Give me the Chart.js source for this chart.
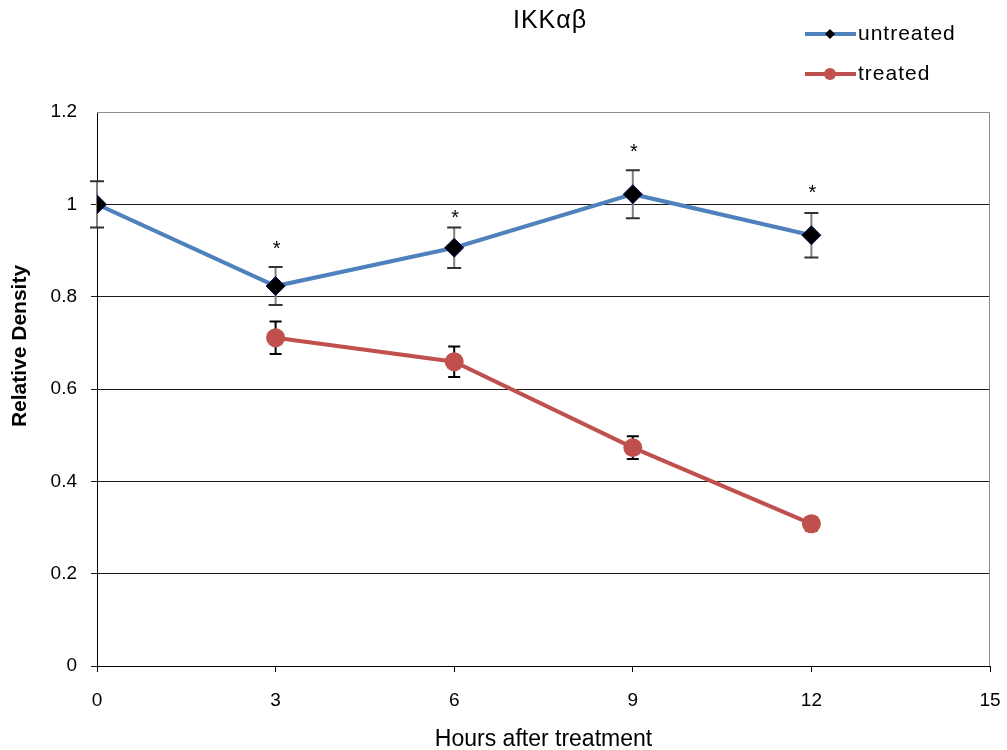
<!DOCTYPE html>
<html>
<head>
<meta charset="utf-8">
<script src="https://cdn.jsdelivr.net/npm/chart.js@4"></script>
<style>
  html, body { margin: 0; padding: 0; background: #fff; }
  #wrap { width: 1007px; height: 750px; }
</style>
</head>
<body>
<div id="wrap"><canvas id="c" width="1007" height="750"></canvas></div>
<script>
const chartTitle = 'IKKαβ';
const xTitle = 'Hours after treatment';
const yTitle = 'Relative Density';
const hours = [0, 3, 6, 9, 12];
const untreated = [1.0, 0.823, 0.906, 1.022, 0.933];
const untreatedErr = [0.05, 0.041, 0.044, 0.052, 0.048];
const treated = [null, 0.711, 0.659, 0.473, 0.308];
const treatedErr = [null, 0.035, 0.033, 0.0245, 0.015];
const starLevels = [null, 0.914, 0.981, 1.124, 1.035];
const xTicks = [0, 3, 6, 9, 12, 15];
const yTicks = [0, 0.2, 0.4, 0.6, 0.8, 1, 1.2];

const FONT = "'Liberation Sans', Arial, sans-serif";
const BLUE = '#4F81BD';
const RED = '#C0504D';

const errorBarPlugin = {
  id: 'errorBars',
  beforeDatasetsDraw(chart) {
    const ctx = chart.ctx;
    const xs = chart.scales.x, ys = chart.scales.y;
    const specs = [
      { vals: untreated, errs: untreatedErr, line: '#7f7f7f', cap: '#333', lw: 2, cw: 7 },
      { vals: treated, errs: treatedErr, line: '#000', cap: '#000', lw: 2, cw: 6 }
    ];
    ctx.save();
    specs.forEach(s => {
      hours.forEach((h, i) => {
        if (s.vals[i] == null || s.errs[i] == null) return;
        const x = xs.getPixelForValue(h);
        const yt = ys.getPixelForValue(s.vals[i] + s.errs[i]);
        const yb = ys.getPixelForValue(s.vals[i] - s.errs[i]);
        ctx.strokeStyle = s.line; ctx.lineWidth = s.lw;
        ctx.beginPath(); ctx.moveTo(x, yt); ctx.lineTo(x, yb); ctx.stroke();
        ctx.strokeStyle = s.cap;
        ctx.beginPath();
        ctx.moveTo(x - s.cw, yt); ctx.lineTo(x + s.cw, yt);
        ctx.moveTo(x - s.cw, yb); ctx.lineTo(x + s.cw, yb);
        ctx.stroke();
      });
    });
    ctx.restore();
  },
  afterDatasetsDraw(chart) {
    const ctx = chart.ctx;
    const xs = chart.scales.x, ys = chart.scales.y;
    ctx.save();
    ctx.fillStyle = '#000';
    ctx.font = '20px ' + FONT;
    ctx.textAlign = 'center';
    ctx.textBaseline = 'alphabetic';
    hours.forEach((h, i) => {
      if (starLevels[i] == null) return;
      const x = xs.getPixelForValue(h);
      const y = ys.getPixelForValue(starLevels[i]);
      ctx.fillText('*', x + 1, y + 11);
    });
    ctx.restore();
  }
};

const decorPlugin = {
  id: 'decor',
  beforeDatasetsDraw(chart) {
    const ctx = chart.ctx, a = chart.chartArea;
    ctx.save();
    ctx.strokeStyle = '#8c8c8c';
    ctx.lineWidth = 1;
    ctx.beginPath();
    ctx.moveTo(a.left, a.top + 0.5); ctx.lineTo(a.right - 0.5, a.top + 0.5);
    ctx.lineTo(a.right - 0.5, a.bottom);
    ctx.stroke();
    ctx.restore();
  },
  afterDraw(chart) {
    const ctx = chart.ctx;
    ctx.save();
    // title
    ctx.fillStyle = '#000';
    ctx.font = '25px ' + FONT;
    ctx.letterSpacing = '1px';
    ctx.textAlign = 'center';
    ctx.textBaseline = 'middle';
    ctx.fillText(chartTitle, 550, 21);
    // y axis title
    ctx.save();
    ctx.letterSpacing = '0px';
    ctx.font = 'bold 21px ' + FONT;
    ctx.translate(20, 346);
    ctx.rotate(-Math.PI / 2);
    ctx.fillText(yTitle, 0, 0);
    ctx.restore();
    // legend
    const items = [
      { label: chart.data.datasets[0].label, color: BLUE, y: 34, style: 'diamond' },
      { label: chart.data.datasets[1].label, color: RED, y: 74, style: 'circle' }
    ];
    items.forEach(it => {
      ctx.strokeStyle = it.color; ctx.lineWidth = 4;
      ctx.beginPath(); ctx.moveTo(805, it.y); ctx.lineTo(856, it.y); ctx.stroke();
      if (it.style === 'diamond') {
        ctx.fillStyle = '#000';
        ctx.beginPath();
        ctx.moveTo(830, it.y - 5); ctx.lineTo(835, it.y); ctx.lineTo(830, it.y + 5); ctx.lineTo(825, it.y);
        ctx.closePath(); ctx.fill();
      } else {
        ctx.fillStyle = it.color;
        ctx.beginPath(); ctx.arc(830, it.y, 6, 0, Math.PI * 2); ctx.fill();
      }
      ctx.fillStyle = '#000';
      ctx.font = '21px ' + FONT;
      ctx.letterSpacing = '1px';
      ctx.textAlign = 'left';
      ctx.fillText(it.label, 858, it.y);
    });
    ctx.restore();
  }
};

new Chart(document.getElementById('c'), {
  type: 'line',
  data: {
    datasets: [
      {
        label: 'untreated',
        data: hours.map((h, i) => ({ x: h, y: untreated[i] })),
        borderColor: BLUE,
        borderWidth: 4,
        pointStyle: 'rectRot',
        pointRadius: 9.5,
        pointBackgroundColor: '#000',
        pointBorderColor: '#0a0a50',
        pointBorderWidth: 1,
        tension: 0
      },
      {
        label: 'treated',
        data: hours.map((h, i) => ({ x: h, y: treated[i] })).filter(p => p.y != null),
        borderColor: RED,
        borderWidth: 4,
        pointStyle: 'circle',
        pointRadius: 9.5,
        pointBackgroundColor: RED,
        pointBorderColor: RED,
        pointBorderWidth: 0,
        tension: 0
      }
    ]
  },
  options: {
    responsive: false,
    animation: false,
    devicePixelRatio: 1,
    layout: { padding: { top: 112, left: 0, right: 17, bottom: 0 } },
    plugins: { legend: { display: false }, title: { display: false }, tooltip: { enabled: false } },
    scales: {
      x: {
        type: 'linear',
        min: 0, max: 15,
        afterBuildTicks: s => { s.ticks = xTicks.map(v => ({ value: v })); },
        afterFit: s => { s.height = 84; s.paddingRight = 0; s.paddingLeft = 0; },
        ticks: { color: '#000', font: { family: FONT, size: 19 }, padding: 17, maxRotation: 0 },
        grid: { drawOnChartArea: false, drawTicks: true, tickLength: 6, color: '#000' },
        border: { color: '#000', width: 1 },
        title: { display: true, text: xTitle, color: '#000', font: { family: FONT, size: 23 }, padding: { top: 0, bottom: -3 } }
      },
      y: {
        min: 0, max: 1.2,
        afterBuildTicks: s => { s.ticks = yTicks.map(v => ({ value: v })); },
        afterFit: s => { s.width = 97; s.paddingTop = 0; s.paddingBottom = 0; },
        ticks: { color: '#000', font: { family: FONT, size: 19 }, padding: 14, callback: v => String(Math.round(v * 10) / 10) },
        grid: {
          drawOnChartArea: true, drawTicks: true, tickLength: 6,
          color: ctx => (ctx.tick && ctx.tick.value >= 1.2 - 1e-9) ? 'rgba(0,0,0,0)' : '#1a1a1a'
        },
        border: { color: '#000', width: 1 },
        title: { display: false, text: yTitle }
      }
    }
  },
  plugins: [decorPlugin, errorBarPlugin]
});
</script>
</body>
</html>
